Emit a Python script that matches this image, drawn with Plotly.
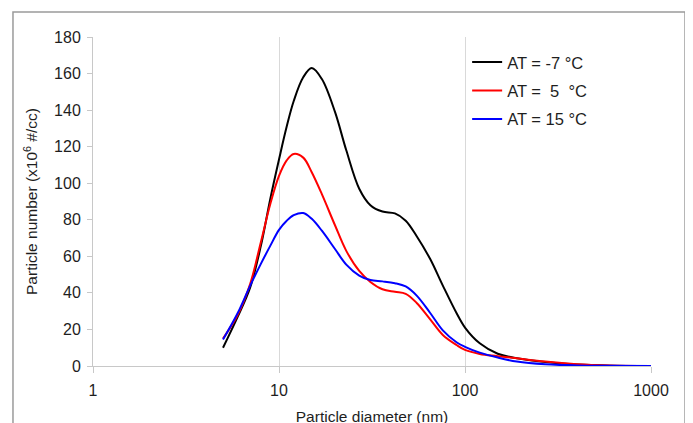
# -*- coding: utf-8 -*-

import plotly.graph_objects as go

# =========================
# DATA
# =========================
diameter_nm = [5, 6, 7, 8, 9, 10, 11, 12, 13.5, 15, 17, 20, 23, 27, 31, 36, 42, 48,
               55, 65, 76, 90, 100, 120, 150, 190, 270, 400, 600, 1000]

at_minus7 = [10, 27, 43, 66, 92, 113, 131, 145, 158, 163, 157, 139, 118, 97, 88, 84.5, 83.5, 79.5,
             71, 58.5, 44, 29, 21, 12.4, 6.7, 4.2, 2.2, 0.8, 0.2, 0]

at_5 = [15, 28, 45, 68, 89, 104, 112.5, 116, 114, 106, 94, 77, 63, 52, 46, 42, 40.6, 39.5,
        34.5, 25.5, 17, 11.5, 8.8, 6.6, 5.4, 4.2, 2.4, 1.0, 0.3, 0]

at_15 = [14.5, 29, 44, 56, 66, 74.5, 79.5, 82.5, 83.7, 80.5, 74, 64, 55.5, 49.5, 47, 46.3, 45.3, 43.5,
         38.5, 29, 19.5, 13, 10.5, 7.3, 4.6, 2.4, 0.9, 0.3, 0.1, 0]

series = [
    ("AT = -7 °C", at_minus7, "#000000"),
    ("AT =\u00a0\u00a05\u00a0\u00a0°C", at_5, "#ff0000"),
    ("AT = 15 °C", at_15, "#0000ff"),
]

FONT = "Liberation Sans, Arial, sans-serif"
TXT = "#1e1e1e"

# =========================
# FIGURE
# =========================
fig = go.Figure()

for i, (name, vals, color) in enumerate(series):
    fig.add_trace(go.Scatter(
        x=diameter_nm, y=vals, name=name, mode="lines", legendgroup=f"g{i}",
        line=dict(color=color, width=2, shape="spline", smoothing=1.0),
    ))

# page body has an 8px margin, so the margins are shifted to keep the plot where it is
fig.update_layout(
    width=693, height=423,
    margin=dict(l=85, r=50, t=29, b=65),
    paper_bgcolor="white", plot_bgcolor="white",
    font=dict(family=FONT, size=16, color=TXT),
    showlegend=True,
    legend=dict(
        x=0.6705, y=0.976, xanchor="left", yanchor="top",
        bgcolor="rgba(0,0,0,0)", itemwidth=30, tracegroupgap=4,
        font=dict(size=16.5, color=TXT),
    ),
)

fig.update_xaxes(
    type="log", range=[0, 3], automargin=False,
    tickvals=[1, 10, 100, 1000], ticktext=["1", "10", "100", "1000"],
    showgrid=True, gridcolor="#d9d9d9", gridwidth=1,
    showline=True, linecolor="#c8c8c8", linewidth=1,
    ticks="outside", ticklen=6, tickcolor="#c8c8c8", ticklabelstandoff=4,
    zeroline=False,
    title=dict(text="Particle diameter (nm)", standoff=12, font=dict(size=15.5)),
)

fig.update_yaxes(
    range=[0, 180], dtick=20, automargin=False,
    showgrid=False,
    showline=True, linecolor="#c8c8c8", linewidth=1,
    ticks="outside", ticklen=5, tickcolor="#c8c8c8", ticklabelstandoff=3,
    zeroline=False,
    title=dict(text="Particle number (x10<sup>6</sup> #/cc)", standoff=12, font=dict(size=15.5)),
)

# outer chart frame
fig.add_shape(type="rect", xref="paper", yref="paper",
              x0=-0.1434, x1=1.061, y0=-0.25, y1=1.076,
              line=dict(color="#9a9a9a", width=1.5), layer="below")

fig.write_html("out.html")
